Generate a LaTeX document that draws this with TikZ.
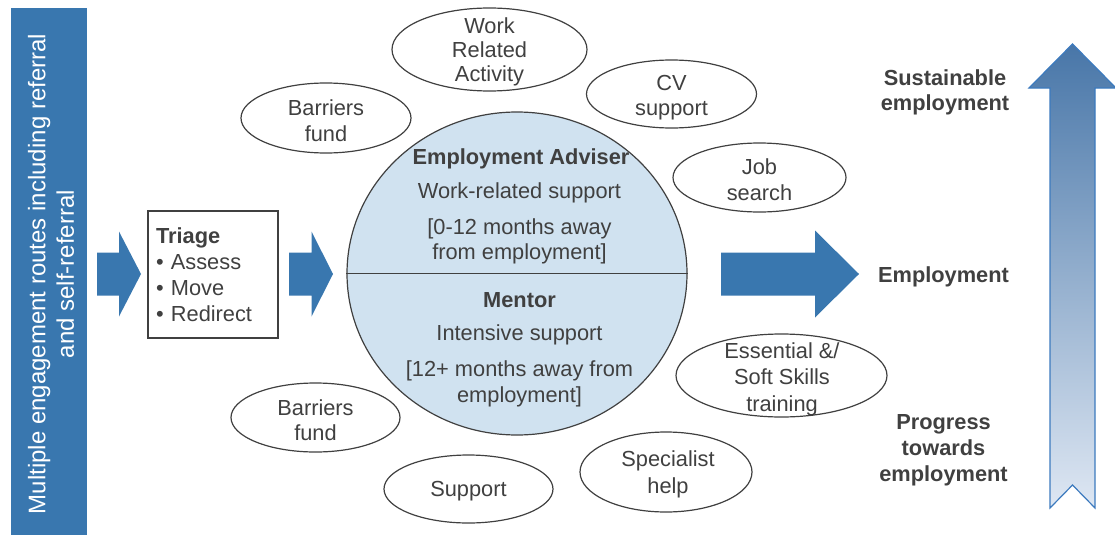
\documentclass[tikz,border=0pt]{standalone}
\usepackage{fontspec}
\setmainfont{Liberation Sans}
\usetikzlibrary{shapes.geometric}
\definecolor{barblue}{RGB}{57,119,175}
\definecolor{hubfill}{RGB}{208,226,240}
\definecolor{txtgray}{RGB}{64,64,64}
\definecolor{arrtop}{RGB}{72,118,168}
\definecolor{arrmid}{RGB}{190,208,232}
\definecolor{arrbot}{RGB}{222,231,243}
\definecolor{arredge}{RGB}{60,122,190}
\tikzset{
  txt/.style={text=txtgray, font=\fontsize{21.8}{25.5}\selectfont, align=center, inner sep=0pt},
  btxt/.style={txt, font=\fontsize{21.8}{25.5}\selectfont\bfseries},
  bubble/.style={ellipse, draw=txtgray, line width=1.2pt, fill=white, inner sep=0pt},
  blockarrow/.style={fill=barblue, draw=none},
}
\begin{document}
\begin{tikzpicture}[x=1pt,y=-1pt]
\useasboundingbox (0,0) rectangle (1115,535);

% left bar
\node[fill=barblue, minimum width=76pt, minimum height=527pt, inner sep=0pt, anchor=north west] (bar) at (11,8) {};
\node[text=white, font=\fontsize{24}{28.5}\selectfont, align=center, inner sep=0pt, rotate=90] (bartxt) at (51,274) {Multiple engagement routes including referral\\and self-referral};

% block arrows
\fill[blockarrow] (97,252.5) -- (119,252.5) -- (119,231.5) -- (141,274) -- (119,316.5) -- (119,295.5) -- (97,295.5) -- cycle;
\fill[blockarrow] (289,252.5) -- (311.5,252.5) -- (311.5,231.5) -- (333,274) -- (311.5,316.5) -- (311.5,295.5) -- (289,295.5) -- cycle;
\fill[blockarrow] (721,252.5) -- (815,252.5) -- (815,230.5) -- (859,274) -- (815,317.5) -- (815,295.5) -- (721,295.5) -- cycle;

% triage
\node[draw=txtgray, line width=1.2pt, minimum width=130pt, minimum height=127pt, text width=114pt,
      inner xsep=8pt, inner ysep=0pt, align=left, text=txtgray,
      font=\fontsize{21.8}{26}\selectfont] (triage) at (213,274.5)
      {\textbf{Triage}\\• Assess\\• Move\\• Redirect};

% hub
\node[ellipse, draw=txtgray, line width=1.2pt, fill=hubfill, minimum width=340pt, minimum height=323pt, inner sep=0pt] (hub) at (517,273.5) {};
\draw[txtgray, line width=1.2pt] (hub.west) -- (hub.east);
\node[btxt] (ea) at (521,158.5) {Employment Adviser};
\node[txt] (wrs) at (519.5,192.5) {Work-related support};
\node[txt] (m012) at (519.5,241.5) {[0-12 months away\\from employment]};
\node[btxt] (mentor) at (519.5,300) {Mentor};
\node[txt] (ins) at (519.5,335) {Intensive support};
\node[txt] (m12) at (519.5,384) {[12+ months away from\\employment]};

% bubbles
\node[bubble, minimum width=195pt, minimum height=83pt] (wra) at (489.5,49.5) {};
\node[txt, font=\fontsize{21.8}{24}\selectfont] (wrat) at (489.5,52) {Work\\Related\\Activity};
\node[bubble, minimum width=170pt, minimum height=68pt] (cv) at (671.5,94) {};
\node[txt] (cvt) at (671.5,97.5) {CV\\support};
\node[bubble, minimum width=170pt, minimum height=70pt] (bf1) at (326,118) {};
\node[txt] (bf1t) at (326,120.5) {Barriers\\fund};
\node[bubble, minimum width=173pt, minimum height=69pt] (job) at (759.5,177.5) {};
\node[txt] (jobt) at (759.5,179.5) {Job\\search};
\node[bubble, minimum width=211pt, minimum height=83pt] (ess) at (781.5,375.5) {};
\node[txt, font=\fontsize{21.8}{26.5}\selectfont] (esst) at (782,379) {Essential \&/\\Soft Skills\\training};
\node[bubble, minimum width=169pt, minimum height=69pt] (bf2) at (315.5,417.5) {};
\node[txt] (bf2t) at (315.5,420) {Barriers\\fund};
\node[bubble, minimum width=169pt, minimum height=68pt] (sup) at (468.5,489) {};
\node[txt] (supt) at (468.5,491) {Support};
\node[bubble, minimum width=172pt, minimum height=80pt] (spec) at (666,472) {};
\node[txt, font=\fontsize{21.8}{27}\selectfont] (spect) at (668,474) {Specialist\\help};

% right labels
\node[btxt] (sust) at (945,92.5) {Sustainable\\employment};
\node[btxt] (empl) at (943.5,277) {Employment};
\node[btxt, font=\fontsize{21.8}{26}\selectfont\bfseries] (prog) at (943.5,450.5) {Progress\\towards\\employment};

% progress arrow
\shadedraw[top color=arrtop, middle color=arrmid, bottom color=arrbot, draw=arredge, line width=1.2pt]
  (1072.5,44) -- (1116,88) -- (1095,88) -- (1095,508) -- (1072.5,485) -- (1050,508) -- (1050,88) -- (1029,88) -- cycle;
\end{tikzpicture}
\end{document}
